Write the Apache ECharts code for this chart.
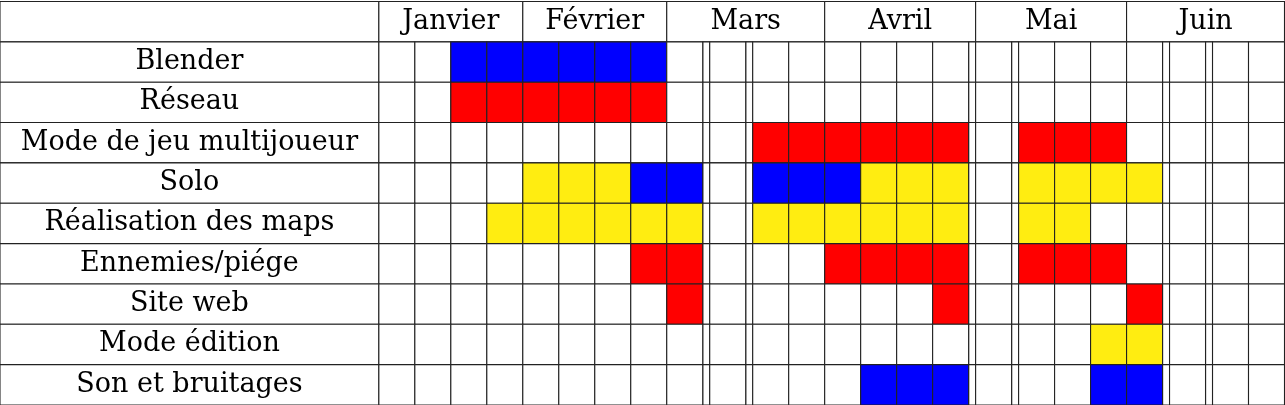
<!DOCTYPE html>
<html><head><meta charset="utf-8">
<script src="https://cdn.jsdelivr.net/npm/echarts@6/dist/echarts.min.js"></script>
<style>html,body{margin:0;padding:0;background:#fff}#c{width:1285px;height:405px}</style>
</head><body><div id="c"></div>
<script>
// ---- data ----
const months = ['Janvier', 'Février', 'Mars', 'Avril', 'Mai', 'Juin'];
const monthFirstWeek = [0, 4, 8, 12, 16, 20];
const weekCount = 24;
const gapsAfterWeek = [8, 9, 15, 16, 20, 21];
const tasks = ['Blender', 'Réseau', 'Mode de jeu multijoueur', 'Solo', 'Réalisation des maps',
  'Ennemies/piége', 'Site web', 'Mode édition', 'Son et bruitages'];
// [task index, first week, last week, colour]
const blocks = [
  [0, 2, 7, 'blue'],
  [1, 2, 7, 'red'],
  [2, 10, 15, 'red'], [2, 17, 19, 'red'],
  [3, 4, 6, 'yellow'], [3, 7, 8, 'blue'], [3, 10, 12, 'blue'], [3, 13, 15, 'yellow'], [3, 17, 20, 'yellow'],
  [4, 3, 8, 'yellow'], [4, 10, 15, 'yellow'], [4, 17, 18, 'yellow'],
  [5, 7, 8, 'red'], [5, 12, 15, 'red'], [5, 17, 19, 'red'],
  [6, 8, 8, 'red'], [6, 15, 15, 'red'], [6, 20, 20, 'red'],
  [7, 19, 20, 'yellow'],
  [8, 13, 15, 'blue'], [8, 19, 20, 'blue']
];
const palette = { blue: '#0000FF', red: '#FF0000', yellow: '#FFED11' };

// ---- layout (in week units) ----
const GAP = 7 / 36;
const LABEL_W = 379 / 36;
const weekStart = [];
const gapStart = [];
let pos = 0;
for (let w = 0; w < weekCount; w++) {
  weekStart.push(pos);
  pos += 1;
  if (gapsAfterWeek.includes(w)) { gapStart.push(pos); pos += GAP; }
}
const totalW = pos;

const rows = [''].concat(tasks);
const cells = []; // [x0, x1, row, fill, text]
cells.push([-LABEL_W, 0, 0, '#fff', '']);
months.forEach((m, i) => {
  const s = weekStart[monthFirstWeek[i]];
  const e = i + 1 < months.length ? weekStart[monthFirstWeek[i + 1]] : totalW;
  cells.push([s, e, 0, '#fff', m]);
});
const fills = tasks.map(() => new Array(weekCount).fill('#fff'));
blocks.forEach(([t, a, b, c]) => { for (let w = a; w <= b; w++) fills[t][w] = palette[c]; });
tasks.forEach((t, i) => {
  const r = i + 1;
  cells.push([-LABEL_W, 0, r, '#fff', t]);
  gapStart.forEach(g => cells.push([g, g + GAP, r, '#fff', '']));
  for (let w = 0; w < weekCount; w++) cells.push([weekStart[w], weekStart[w] + 1, r, fills[i][w], '']);
});

const chart = echarts.init(document.getElementById('c'), null, { renderer: 'canvas' });
chart.setOption({
  animation: false,
  backgroundColor: '#fff',
  grid: { left: -0.5, top: 1.5, width: 1285, height: 405 },
  xAxis: { type: 'value', min: -LABEL_W, max: totalW, show: false },
  yAxis: { type: 'category', data: rows, inverse: true, show: false },
  series: [{
    type: 'custom',
    coordinateSystem: 'cartesian2d',
    data: cells,
    encode: { x: [0, 1], y: 2 },
    renderItem: function (params, api) {
      const d = cells[params.dataIndex];
      const p0 = api.coord([d[0], d[2]]);
      const p1 = api.coord([d[1], d[2]]);
      const h = api.size([0, 1])[1];
      const el = {
        type: 'rect',
        shape: { x: p0[0], y: p0[1] - h / 2, width: p1[0] - p0[0], height: h },
        style: { fill: d[3], stroke: '#222', lineWidth: 1.1 }
      };
      if (d[4]) {
        el.textContent = { style: { text: d[4], font: '27px "DejaVu Serif"', fill: '#000' } };
        el.textConfig = { position: 'inside' };
      }
      return el;
    }
  }]
});
</script></body></html>
